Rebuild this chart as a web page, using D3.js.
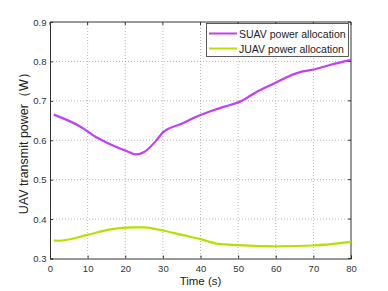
<!DOCTYPE html>
<html>
<head>
<meta charset="utf-8">
<script src="https://cdn.jsdelivr.net/npm/d3@7"></script>
<style>
  body { margin: 0; background: #fff; }
  svg text { font-family: "Liberation Sans", Arial, sans-serif; }
</style>
</head>
<body>
<svg width="388" height="291"></svg>
<script>
// data
const suavT = [1, 8, 12.4, 16, 20, 23, 25, 28.4, 30, 35, 40, 44, 47, 50.5, 55, 59.8, 62.9, 66.9, 70.4, 74.4, 80];
const suavP = [0.665, 0.635, 0.607, 0.590, 0.574, 0.564, 0.570, 0.601, 0.620, 0.642, 0.664, 0.678, 0.687, 0.698, 0.723, 0.745, 0.760, 0.774, 0.780, 0.791, 0.804];
const juavT = [1, 2.2, 10, 16, 22, 25, 30, 35, 40, 44.8, 50, 60, 70, 80];
const juavP = [0.346, 0.345, 0.360, 0.374, 0.379, 0.379, 0.371, 0.360, 0.349, 0.337, 0.334, 0.331, 0.333, 0.342];
const xTicks = [0, 10, 20, 30, 40, 50, 60, 70, 80];
const yTicks = [0.3, 0.4, 0.5, 0.6, 0.7, 0.8, 0.9];
const seriesNames = ["SUAV power allocation", "JUAV power allocation"];
const colors = ["#bf3eff", "#b5e100"];

const svg = d3.select("svg");
const L = 50, R = 351, T = 22, B = 258.5;

const x = d3.scaleLinear().domain([0, 80]).range([L, R]);
const y = d3.scaleLinear().domain([0.3, 0.9]).range([B, T]);

// grid
const grid = svg.append("g");
grid.selectAll(".gx").data(xTicks.slice(1, -1)).enter().append("line")
  .attr("x1", d => x(d)).attr("x2", d => x(d)).attr("y1", T).attr("y2", B)
  .attr("stroke", "#888").attr("stroke-width", 0.6).attr("stroke-dasharray", "1,2");
grid.selectAll(".gy").data(yTicks.slice(1, -1)).enter().append("line")
  .attr("y1", d => y(d)).attr("y2", d => y(d)).attr("x1", L).attr("x2", R)
  .attr("stroke", "#888").attr("stroke-width", 0.6).attr("stroke-dasharray", "1,2");

// axes
const xAxis = svg.append("g").attr("transform", `translate(0,${B})`)
  .call(d3.axisBottom(x).tickValues(xTicks).tickSize(-3).tickPadding(6.5).tickFormat(d3.format("d")));
const yAxis = svg.append("g").attr("transform", `translate(${L},0)`)
  .call(d3.axisLeft(y).tickValues(yTicks).tickSize(-3).tickPadding(3.5).tickFormat(d3.format(".1f")));
[xAxis, yAxis].forEach(a => {
  a.select(".domain").attr("stroke", "#333");
  a.selectAll(".tick line").attr("stroke", "#333");
  a.selectAll("text").attr("font-size", 9.5).attr("fill", "#333");
});
// top/right box
svg.append("line").attr("x1", L).attr("x2", R).attr("y1", T).attr("y2", T).attr("stroke", "#333");
svg.append("line").attr("x1", R).attr("x2", R).attr("y1", T).attr("y2", B).attr("stroke", "#333");
svg.append("g").selectAll("line").data(xTicks).enter().append("line")
  .attr("x1", d => x(d)).attr("x2", d => x(d)).attr("y1", T).attr("y2", T + 3).attr("stroke", "#333");
svg.append("g").selectAll("line").data(yTicks).enter().append("line")
  .attr("y1", d => y(d)).attr("y2", d => y(d)).attr("x1", R).attr("x2", R - 3).attr("stroke", "#333");

// lines
const line = d3.line().x(d => x(d[0])).y(d => y(d[1])).curve(d3.curveMonotoneX);
const series = [d3.zip(suavT, suavP), d3.zip(juavT, juavP)];
svg.append("g").selectAll("path").data(series).enter().append("path")
  .attr("d", line).attr("fill", "none")
  .attr("stroke", (d, i) => colors[i]).attr("stroke-width", 2.2);

// labels
svg.append("text").attr("x", x(40)).attr("y", 285).attr("text-anchor", "middle")
  .attr("font-size", 11.5).attr("fill", "#222").text("Time (s)");
svg.append("text").attr("transform", `translate(28,${(T + B) / 2}) rotate(-90)`)
  .attr("text-anchor", "middle").attr("font-size", 12.5).attr("fill", "#222")
  .text("UAV transmit power（W）");

// legend
const lg = svg.append("g");
lg.append("rect").attr("x", 206.5).attr("y", 23.5).attr("width", 142).attr("height", 33)
  .attr("fill", "#fff").attr("stroke", "#333").attr("stroke-width", 0.8);
seriesNames.forEach((n, i) => {
  const yy = 33.5 + i * 15;
  lg.append("line").attr("x1", 209).attr("x2", 237).attr("y1", yy).attr("y2", yy)
    .attr("stroke", colors[i]).attr("stroke-width", 2);
  lg.append("text").attr("x", 239).attr("y", yy + 4).attr("font-size", 10.5)
    .attr("fill", "#222").text(n);
});
</script>
</body>
</html>
